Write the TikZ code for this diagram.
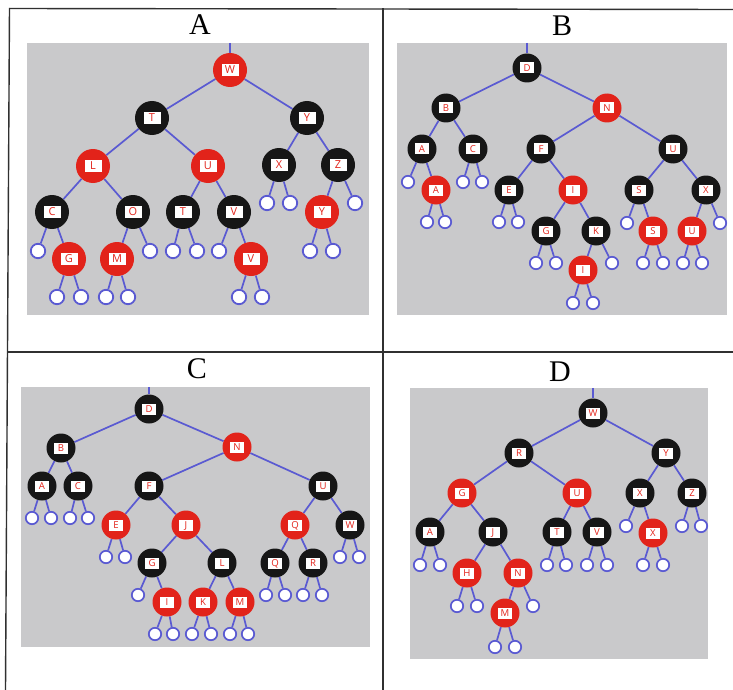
\documentclass[tikz,border=0pt]{standalone}
\usepackage{fontspec}
\setmainfont{Liberation Serif}
\newfontfamily\lblfont{Open Sans}
\definecolor{gbg}{HTML}{C9C9CB}
\definecolor{nred}{HTML}{E2231A}
\definecolor{nblk}{HTML}{161616}
\definecolor{eblu}{HTML}{5A5AD2}
\definecolor{frm}{HTML}{303030}
\newcommand\la[1]{{\setlength\fboxsep{0pt}\colorbox{white}{\makebox[17pt]{\rule[-2.2pt]{0pt}{12pt}\textcolor{nred}{#1}}}}}
\newcommand\lb[1]{{\setlength\fboxsep{0pt}\colorbox{white}{\makebox[14pt]{\rule[-2.3pt]{0pt}{11pt}\textcolor{nred}{#1}}}}}
\pgfdeclarelayer{bgl}
\pgfdeclarelayer{edl}
\pgfsetlayers{bgl,edl,main}
\tikzset{
  bkA/.style={circle,inner sep=0pt,minimum size=34pt,fill=nblk,font=\lblfont\fontsize{11}{11}\selectfont},
  rdA/.style={bkA,fill=nred},
  lfA/.style={circle,inner sep=0pt,minimum size=14.4pt,fill=white,draw=eblu,line width=1.8pt},
  bk/.style={circle,inner sep=0pt,minimum size=29pt,fill=nblk,font=\lblfont\fontsize{9.6}{9.6}\selectfont},
  rd/.style={bk,fill=nred},
  lf/.style={circle,inner sep=0pt,minimum size=12.4pt,fill=white,draw=eblu,line width=1.7pt},
  ed/.style={draw=eblu,line width=1.7pt},
  ttl/.style={anchor=base,font=\fontsize{30}{30}\selectfont,inner sep=0pt},
  frame/.style={draw=frm,line width=1.4pt},
  panel/.style={fill=gbg}
}
\begin{document}
\begin{tikzpicture}[x=1pt,y=-1pt]
\useasboundingbox (0,0) rectangle (733,690);
\begin{pgfonlayer}{bgl}
  \fill[white] (0,0) rectangle (733,690);
  \fill[panel] (27,43) rectangle (369,315);
  \fill[panel] (397,43) rectangle (727,315);
  \fill[panel] (21,387) rectangle (370,647);
  \fill[panel] (410,388) rectangle (708,659);
  \draw[frame] (9.5,8.5) -- (733,9.5);
  \draw[frame] (9.5,8) -- (5.5,690);
  \draw[frame] (383,8.5) -- (383,690);
  \draw[frame] (7.5,352) -- (733,352);
\end{pgfonlayer}
% titles
\node[ttl] (tA) at (200,35) {A};
\node[ttl] (tB) at (562,36) {B};
\node[ttl] (tC) at (197,378) {C};
\node[ttl] (tD) at (560,381) {D};

% ---------------- Panel A ----------------
\coordinate (aR) at (230,43);
\node[rdA] (aW) at (230,70) {\la{W}};
\node[bkA] (aT) at (152,118) {\la{T}};
\node[bkA] (aY) at (307,118) {\la{Y}};
\node[rdA] (aL) at (93,166) {\la{L}};
\node[rdA] (aU) at (208,166) {\la{U}};
\node[bkA] (aX) at (279,165) {\la{X}};
\node[bkA] (aZ) at (338,165) {\la{Z}};
\node[bkA] (aC) at (52,212) {\la{C}};
\node[bkA] (aO) at (133,212) {\la{O}};
\node[bkA] (aT2) at (183,212) {\la{T}};
\node[bkA] (aV) at (234,212) {\la{V}};
\node[lfA] (aXl) at (267,203) {};
\node[lfA] (aXr) at (290,203) {};
\node[rdA] (aY2) at (322,212) {\la{Y}};
\node[lfA] (aZr) at (355,203) {};
\node[lfA] (aCl) at (38,251) {};
\node[rdA] (aG) at (69,259) {\la{G}};
\node[rdA] (aM) at (117,259) {\la{M}};
\node[lfA] (aOr) at (150,251) {};
\node[lfA] (aT2l) at (173,251) {};
\node[lfA] (aT2r) at (197,251) {};
\node[lfA] (aVl) at (219,251) {};
\node[rdA] (aV2) at (251,259) {\la{V}};
\node[lfA] (aGl) at (57,297) {};
\node[lfA] (aGr) at (81,297) {};
\node[lfA] (aMl) at (106,297) {};
\node[lfA] (aMr) at (128,297) {};
\node[lfA] (aV2l) at (239,297) {};
\node[lfA] (aV2r) at (262,297) {};
\node[lfA] (aY2l) at (310,251) {};
\node[lfA] (aY2r) at (333,251) {};

% ---------------- Panel B ----------------
\coordinate (bR) at (527,43);
\node[bk] (bD) at (527,68) {\lb{D}};
\node[bk] (bB) at (446,108) {\lb{B}};
\node[rd] (bN) at (607,108) {\lb{N}};
\node[bk] (bA) at (422,149) {\lb{A}};
\node[bk] (bC) at (473,149) {\lb{C}};
\node[bk] (bF) at (541,149) {\lb{F}};
\node[bk] (bU) at (673,149) {\lb{U}};
\node[lf] (bAl) at (408,182) {};
\node[rd] (bA2) at (436,190) {\lb{A}};
\node[lf] (bCl) at (463,182) {};
\node[lf] (bCr) at (482,182) {};
\node[bk] (bE) at (509,190) {\lb{E}};
\node[rd] (bI) at (573,190) {\lb{I}};
\node[bk] (bS) at (639,190) {\lb{S}};
\node[bk] (bX) at (706,190) {\lb{X}};
\node[lf] (bA2l) at (427,222) {};
\node[lf] (bA2r) at (445,222) {};
\node[lf] (bEl) at (499,222) {};
\node[lf] (bEr) at (518,222) {};
\node[bk] (bG) at (546,231) {\lb{G}};
\node[bk] (bK) at (596,231) {\lb{K}};
\node[lf] (bSl) at (627,223) {};
\node[rd] (bS2) at (653,231) {\lb{S}};
\node[rd] (bU2) at (692,231) {\lb{U}};
\node[lf] (bXr) at (720,223) {};
\node[lf] (bGl) at (536,263) {};
\node[lf] (bGr) at (556,263) {};
\node[rd] (bI2) at (583,270) {\lb{I}};
\node[lf] (bKr) at (612,263) {};
\node[lf] (bS2l) at (643,263) {};
\node[lf] (bS2r) at (663,263) {};
\node[lf] (bU2l) at (683,263) {};
\node[lf] (bU2r) at (702,263) {};
\node[lf] (bI2l) at (573,303) {};
\node[lf] (bI2r) at (593,303) {};

% ---------------- Panel C ----------------
\coordinate (cR) at (149,387);
\node[bk] (cD) at (149,409) {\lb{D}};
\node[bk] (cB) at (61,448) {\lb{B}};
\node[rd] (cN) at (237,447) {\lb{N}};
\node[bk] (cA) at (42,486) {\lb{A}};
\node[bk] (cC) at (78,486) {\lb{C}};
\node[bk] (cF) at (149,486) {\lb{F}};
\node[bk] (cU) at (323,486) {\lb{U}};
\node[lf] (cAl) at (32,518) {};
\node[lf] (cAr) at (51,518) {};
\node[lf] (cCl) at (70,518) {};
\node[lf] (cCr) at (88,518) {};
\node[rd] (cE) at (116,525) {\lb{E}};
\node[rd] (cJ) at (186,525) {\lb{J}};
\node[rd] (cQ) at (295,525) {\lb{Q}};
\node[bk] (cW) at (350,525) {\lb{W}};
\node[lf] (cEl) at (106,557) {};
\node[lf] (cEr) at (125,557) {};
\node[bk] (cG) at (152,563) {\lb{G}};
\node[bk] (cL) at (222,563) {\lb{L}};
\node[bk] (cQ2) at (275,563) {\lb{Q}};
\node[bk] (cRr) at (313,563) {\lb{R}};
\node[lf] (cWl) at (340,557) {};
\node[lf] (cWr) at (359,557) {};
\node[lf] (cGl) at (138,595) {};
\node[rd] (cI) at (167,602) {\lb{I}};
\node[rd] (cK) at (203,602) {\lb{K}};
\node[rd] (cM) at (240,602) {\lb{M}};
\node[lf] (cQ2l) at (266,595) {};
\node[lf] (cQ2r) at (285,595) {};
\node[lf] (cRrl) at (303,595) {};
\node[lf] (cRrr) at (322,595) {};
\node[lf] (cIl) at (155,634) {};
\node[lf] (cIr) at (173,634) {};
\node[lf] (cKl) at (192,634) {};
\node[lf] (cKr) at (211,634) {};
\node[lf] (cMl) at (230,634) {};
\node[lf] (cMr) at (248,634) {};

% ---------------- Panel D ----------------
\coordinate (dR0) at (593,388);
\node[bk] (dW) at (593,413) {\lb{W}};
\node[bk] (dR) at (519,453) {\lb{R}};
\node[bk] (dY) at (666,453) {\lb{Y}};
\node[rd] (dG) at (462,493) {\lb{G}};
\node[rd] (dU) at (577,493) {\lb{U}};
\node[bk] (dX) at (640,493) {\lb{X}};
\node[bk] (dZ) at (692,493) {\lb{Z}};
\node[bk] (dA) at (430,532) {\lb{A}};
\node[bk] (dJ) at (493,532) {\lb{J}};
\node[bk] (dT) at (557,532) {\lb{T}};
\node[bk] (dV) at (597,532) {\lb{V}};
\node[lf] (dXl) at (626,526) {};
\node[rd] (dX2) at (653,533) {\lb{X}};
\node[lf] (dZl) at (682,526) {};
\node[lf] (dZr) at (701,526) {};
\node[lf] (dAl) at (420,565) {};
\node[lf] (dAr) at (440,565) {};
\node[rd] (dH) at (467,573) {\lb{H}};
\node[rd] (dN) at (518,573) {\lb{N}};
\node[lf] (dTl) at (547,565) {};
\node[lf] (dTr) at (566,565) {};
\node[lf] (dVl) at (587,565) {};
\node[lf] (dVr) at (607,565) {};
\node[lf] (dX2l) at (643,565) {};
\node[lf] (dX2r) at (663,565) {};
\node[lf] (dHl) at (457,606) {};
\node[lf] (dHr) at (477,606) {};
\node[rd] (dM) at (505,613) {\lb{M}};
\node[lf] (dNr) at (533,606) {};
\node[lf] (dMl) at (495,647) {};
\node[lf] (dMr) at (515,647) {};

% ---------------- edges ----------------
\begin{pgfonlayer}{edl}
\foreach \p/\c in {aR/aW,aW/aT,aW/aY,aT/aL,aT/aU,aY/aX,aY/aZ,aL/aC,aL/aO,aU/aT2,aU/aV,
  aX/aXl,aX/aXr,aZ/aY2,aZ/aZr,aC/aCl,aC/aG,aO/aM,aO/aOr,aT2/aT2l,aT2/aT2r,aV/aVl,aV/aV2,
  aG/aGl,aG/aGr,aM/aMl,aM/aMr,aV2/aV2l,aV2/aV2r,aY2/aY2l,aY2/aY2r,
  bR/bD,bD/bB,bD/bN,bB/bA,bB/bC,bN/bF,bN/bU,bA/bAl,bA/bA2,bC/bCl,bC/bCr,bF/bE,bF/bI,
  bU/bS,bU/bX,bA2/bA2l,bA2/bA2r,bE/bEl,bE/bEr,bI/bG,bI/bK,bS/bSl,bS/bS2,bX/bU2,bX/bXr,
  bG/bGl,bG/bGr,bK/bI2,bK/bKr,bS2/bS2l,bS2/bS2r,bU2/bU2l,bU2/bU2r,bI2/bI2l,bI2/bI2r,
  cR/cD,cD/cB,cD/cN,cB/cA,cB/cC,cN/cF,cN/cU,cA/cAl,cA/cAr,cC/cCl,cC/cCr,cF/cE,cF/cJ,
  cU/cQ,cU/cW,cE/cEl,cE/cEr,cJ/cG,cJ/cL,cQ/cQ2,cQ/cRr,cW/cWl,cW/cWr,cG/cGl,cG/cI,
  cL/cK,cL/cM,cQ2/cQ2l,cQ2/cQ2r,cRr/cRrl,cRr/cRrr,cI/cIl,cI/cIr,cK/cKl,cK/cKr,cM/cMl,cM/cMr,
  dR0/dW,dW/dR,dW/dY,dR/dG,dR/dU,dY/dX,dY/dZ,dG/dA,dG/dJ,dU/dT,dU/dV,dX/dXl,dX/dX2,
  dZ/dZl,dZ/dZr,dA/dAl,dA/dAr,dJ/dH,dJ/dN,dT/dTl,dT/dTr,dV/dVl,dV/dVr,dX2/dX2l,dX2/dX2r,
  dH/dHl,dH/dHr,dN/dM,dN/dNr,dM/dMl,dM/dMr}
  \draw[ed] (\p) -- (\c);
\end{pgfonlayer}
\end{tikzpicture}
\end{document}
